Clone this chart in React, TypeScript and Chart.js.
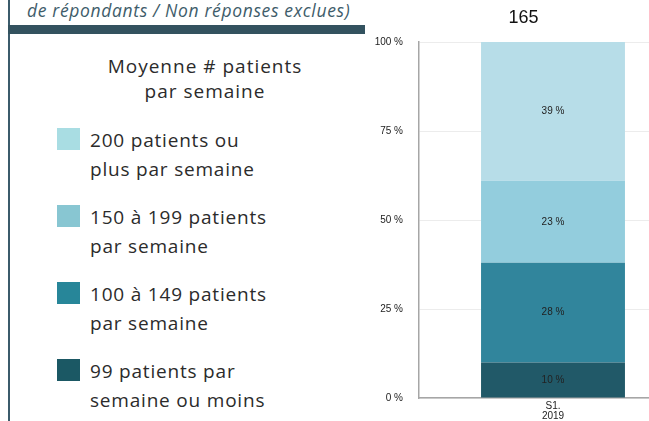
import React, { useEffect, useRef } from "react";
import { Chart, registerables } from "chart.js";

Chart.register(...registerables);

const categories: string[][] = [["S1.", "2019"]];
const seriesLabels = [
  "99 patients par semaine ou moins",
  "100 à 149 patients par semaine",
  "150 à 199 patients par semaine",
  "200 patients ou plus par semaine",
];
const seriesValues: number[][] = [[10], [28], [23], [39]];
const barColors = ["#215968", "#31859c", "#93cddd", "#b7dde8"];
const legendColors = ["#1b5864", "#278699", "#88c6d2", "#a9dde3"];
const legendLines: string[][] = [
  ["99 patients par", "semaine ou moins"],
  ["100 à 149 patients", "par semaine"],
  ["150 à 199 patients", "par semaine"],
  ["200 patients ou", "plus par semaine"],
];
const legendTitle = ["Moyenne # patients", "par semaine"];
const chartTitle = "165";
const headerText = "de répondants / Non réponses exclues)";
const yTicks = [0, 25, 50, 75, 100];

const labelPlugin = {
  id: "segLabels",
  afterDatasetsDraw(chart: any) {
    const ctx = chart.ctx;
    ctx.save();
    ctx.font = "10px Arial, 'Liberation Sans', sans-serif";
    ctx.fillStyle = "#222";
    ctx.textAlign = "center";
    ctx.textBaseline = "middle";
    chart.data.datasets.forEach((ds: any, di: number) => {
      const meta = chart.getDatasetMeta(di);
      meta.data.forEach((el: any, i: number) => {
        const v = ds.data[i];
        ctx.fillText(v + " %", el.x, (el.y + el.base) / 2);
      });
    });
    ctx.restore();
  },
};

export default function App() {
  const ref = useRef<HTMLCanvasElement>(null);
  useEffect(() => {
    if (!ref.current) return;
    const chart = new Chart(ref.current, {
      type: "bar",
      data: {
        labels: categories,
        datasets: seriesLabels.map((l, i) => ({
          label: l,
          data: seriesValues[i],
          backgroundColor: barColors[i],
          borderWidth: 0,
          barPercentage: 1,
          categoryPercentage: 0.537,
        })),
      },
      options: {
        animation: false,
        responsive: false,
        maintainAspectRatio: false,
        layout: { padding: { left: 0, right: 0, top: 0, bottom: 0 } },
        plugins: {
          legend: { display: false },
          tooltip: { enabled: false },
          title: {
            display: true,
            text: chartTitle,
            color: "#111",
            font: { size: 18, family: "Arial, 'Liberation Sans', sans-serif", weight: "normal" },
            padding: { top: 7.5, bottom: 12.9 },
          },
        },
        scales: {
          x: {
            stacked: true,
            grid: { display: false, drawTicks: false },
            border: { color: "#a6a6a6", width: 1.5 },
            ticks: {
              color: "#222",
              font: { size: 10, family: "Arial, 'Liberation Sans', sans-serif", lineHeight: 1 },
              padding: 3,
              maxRotation: 0,
            },
            afterFit: (s: any) => {
              s.height = 23;
            },
          },
          y: {
            stacked: true,
            min: 0,
            max: 100,
            afterBuildTicks: (s: any) => {
              s.ticks = yTicks.map((v) => ({ value: v }));
            },
            grid: { color: "#ececec", lineWidth: 1, drawTicks: false },
            border: { color: "#a6a6a6", width: 1.5 },
            ticks: {
              color: "#222",
              font: { size: 10, family: "Arial, 'Liberation Sans', sans-serif" },
              padding: 16,
              callback: (v: any) => v + " %",
            },
            afterFit: (s: any) => {
              s.width = 59;
            },
          },
        },
      },
      plugins: [labelPlugin],
    });
    return () => chart.destroy();
  }, []);

  const font = "'Open Sans', Lato, sans-serif";
  const order = [3, 2, 1, 0];
  return (
    <div
      style={{
        position: "absolute",
        left: 0,
        top: 0,
        width: 649,
        height: 421,
        overflow: "hidden",
        background: "#fff",
        fontFamily: font,
      }}
    >
      <div style={{ position: "absolute", left: 8, top: 0, width: 2, height: 421, background: "#3b5b6b" }} />
      <div style={{ position: "absolute", left: 8, top: 25, width: 357, height: 9, background: "#33525f" }} />
      <div
        style={{
          position: "absolute",
          left: 27,
          top: -1,
          fontSize: 17.5,
          lineHeight: "22px",
          fontStyle: "italic",
          letterSpacing: "0.65px",
          color: "#3e5c6a",
          whiteSpace: "nowrap",
        }}
      >
        {headerText}
      </div>
      <div
        style={{
          position: "absolute",
          left: 80,
          top: 54,
          width: 250,
          textAlign: "center",
          fontSize: 19,
          lineHeight: "25px",
          letterSpacing: "1px",
          color: "#2b2b2b",
        }}
      >
        {legendTitle.map((t, i) => (
          <div key={i}>{t}</div>
        ))}
      </div>
      {order.map((si, k) => (
        <div key={si} style={{ position: "absolute", left: 57, top: 128 + k * 77 }}>
          <div style={{ position: "absolute", left: 0, top: 0, width: 23, height: 22, background: legendColors[si] }} />
          <div
            style={{
              position: "absolute",
              left: 33,
              top: -2,
              fontSize: 19,
              lineHeight: "28.5px",
              letterSpacing: "0.8px",
              color: "#2b2b2b",
              whiteSpace: "nowrap",
            }}
          >
            {legendLines[si].map((t, i) => (
              <div key={i}>{t}</div>
            ))}
          </div>
        </div>
      ))}
      <canvas
        ref={ref}
        width={327}
        height={421}
        style={{ position: "absolute", left: 360, top: 0, width: 327, height: 421 }}
      />
    </div>
  );
}
